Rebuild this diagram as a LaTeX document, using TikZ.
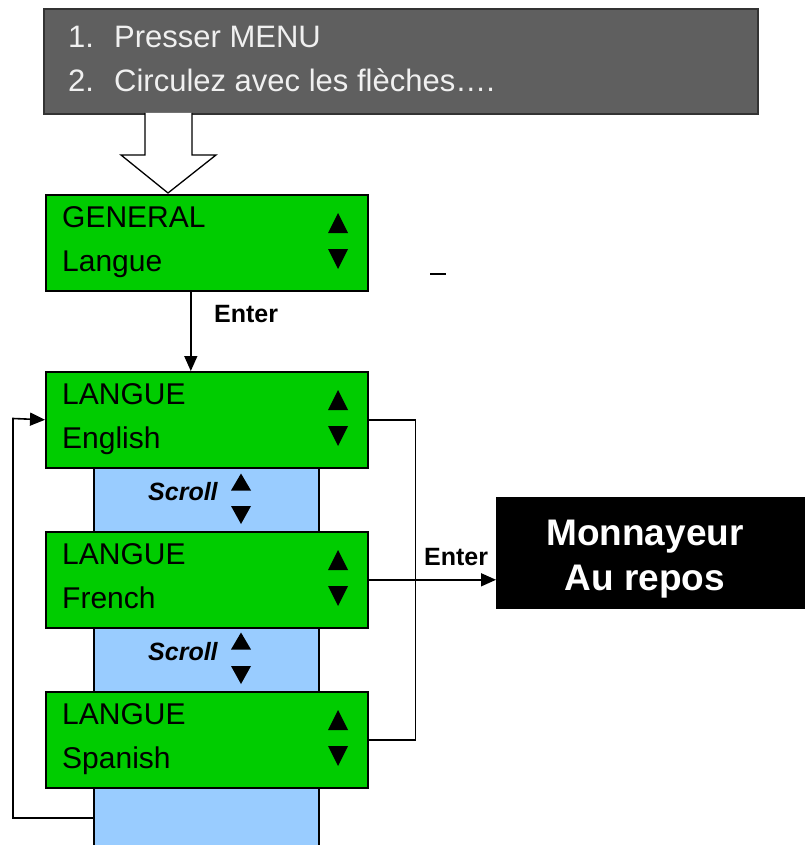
\documentclass[tikz,border=0pt]{standalone}
\usepackage{fontspec}
\setmainfont{Liberation Sans}
\usetikzlibrary{arrows.meta}
\definecolor{greybox}{HTML}{5F5F5F}
\definecolor{greytext}{HTML}{F0F0F0}
\definecolor{lcdgreen}{HTML}{00CC00}
\definecolor{scrollblue}{HTML}{99CCFF}
\begin{document}
\begin{tikzpicture}[x=1pt,y=-1pt,
  screen/.style={draw=black, line width=1.6pt, fill=lcdgreen, minimum width=322pt, minimum height=96pt, anchor=north west, inner sep=0pt},
  lcdtext/.style={anchor=base west, inner sep=0pt, font=\fontsize{30}{36}\selectfont},
  toptext/.style={anchor=base west, inner sep=0pt, text=greytext, font=\fontsize{31}{37}\selectfont},
  keylabel/.style={anchor=base west, inner sep=0pt, font=\bfseries\fontsize{25}{30}\selectfont},
  scrolllabel/.style={anchor=base west, inner sep=0pt, font=\bfseries\itshape\fontsize{25}{30}\selectfont},
  link/.style={line width=1.6pt, -{Triangle[width=13pt,length=15pt]}},
  wire/.style={line width=1.6pt},
  lcdup/.pic={\fill (-10,10) -- (10,10) -- (0,-10) -- cycle;},
  lcddown/.pic={\fill (-10,-10) -- (10,-10) -- (0,10) -- cycle;},
  smallup/.pic={\fill (-10,8.5) -- (10,8.5) -- (0,-8.5) -- cycle;},
  smalldown/.pic={\fill (-10,-9) -- (10,-9) -- (0,9) -- cycle;}
]
\useasboundingbox (0,0) rectangle (804,845);

% blue scroll column
\fill[scrollblue] (94,466) rectangle (319,846);
\draw[wire] (94,466) -- (94,846) (319,466) -- (319,846);

% top instruction box
\node[draw=black!80, line width=1.6pt, fill=greybox, minimum width=714pt, minimum height=105pt, anchor=north west, inner sep=0pt] (top) at (43,8) {};
\node[toptext] (t1n) at (68,48) {1.};
\node[toptext] (t1) at (114,48) {Presser MENU};
\node[toptext] (t2n) at (68,92) {2.};
\node[toptext] (t2) at (114,92) {Circulez avec les flèches….};

% screens
\node[screen] (gen) at (45,194) {};
\node[lcdtext] (gen1) at (62,227) {GENERAL};
\node[lcdtext] (gen2) at (62,271) {Langue};
\pic at (338,223) {lcdup};
\pic at (338,259) {lcddown};

\node[screen] (eng) at (45,371) {};
\node[lcdtext] (eng1) at (62,404) {LANGUE};
\node[lcdtext] (eng2) at (62,448) {English};
\pic at (338,400) {lcdup};
\pic at (338,436) {lcddown};

\node[screen] (fr) at (45,531) {};
\node[lcdtext] (fr1) at (62,564) {LANGUE};
\node[lcdtext] (fr2) at (62,608) {French};
\pic at (338,560) {lcdup};
\pic at (338,596) {lcddown};

\node[screen] (spa) at (45,691) {};
\node[lcdtext] (spa1) at (62,724) {LANGUE};
\node[lcdtext] (spa2) at (62,768) {Spanish};
\pic at (338,720) {lcdup};
\pic at (338,756) {lcddown};

% scroll labels
\node[scrolllabel] (sc1) at (148,500) {Scroll};
\pic at (241,482) {smallup};
\pic at (241,515) {smalldown};
\node[scrolllabel] (sc2) at (148,660) {Scroll};
\pic at (241,641) {smallup};
\pic at (241,675) {smalldown};

% hollow block arrow
\coordinate (hatip) at (168,193);
\draw[line width=1.3pt, fill=white] (145,113) -- (145,155) -- (121,155) -- (hatip) -- (216,155) -- (192,155) -- (192,113);

% Enter from GENERAL to LANGUE
\draw[link] ([xshift=-16pt]gen.south) -- ([xshift=-16pt]eng.north);
\node[keylabel] (enter1) at (214,322) {Enter};

% right loop
\draw[wire] (eng.east) -- ++(47,0) |- (spa.east);

% left loop
\coordinate (loopstart) at (94,818);
\draw[link] (loopstart) -- (13,818) -- (13,418.5) -- (eng.west);

% result box
\node[fill=black, minimum width=320pt, minimum height=112pt, anchor=north west, inner sep=0pt] (mon) at (496,497) {};
\node[anchor=base, inner sep=0pt, text=white, font=\bfseries\fontsize{37}{44}\selectfont] (mon1) at (645,545) {Monnayeur};
\node[anchor=base, inner sep=0pt, text=white, font=\bfseries\fontsize{37}{44}\selectfont] (mon2) at (645,590) {Au repos};

\draw[link] (fr.east) -- (fr.east -| mon.west);
\node[keylabel] (enter2) at (424,565) {Enter};

% stray dash
\draw[line width=1.8pt] (430,274) -- (446,274);
\end{tikzpicture}
\end{document}
